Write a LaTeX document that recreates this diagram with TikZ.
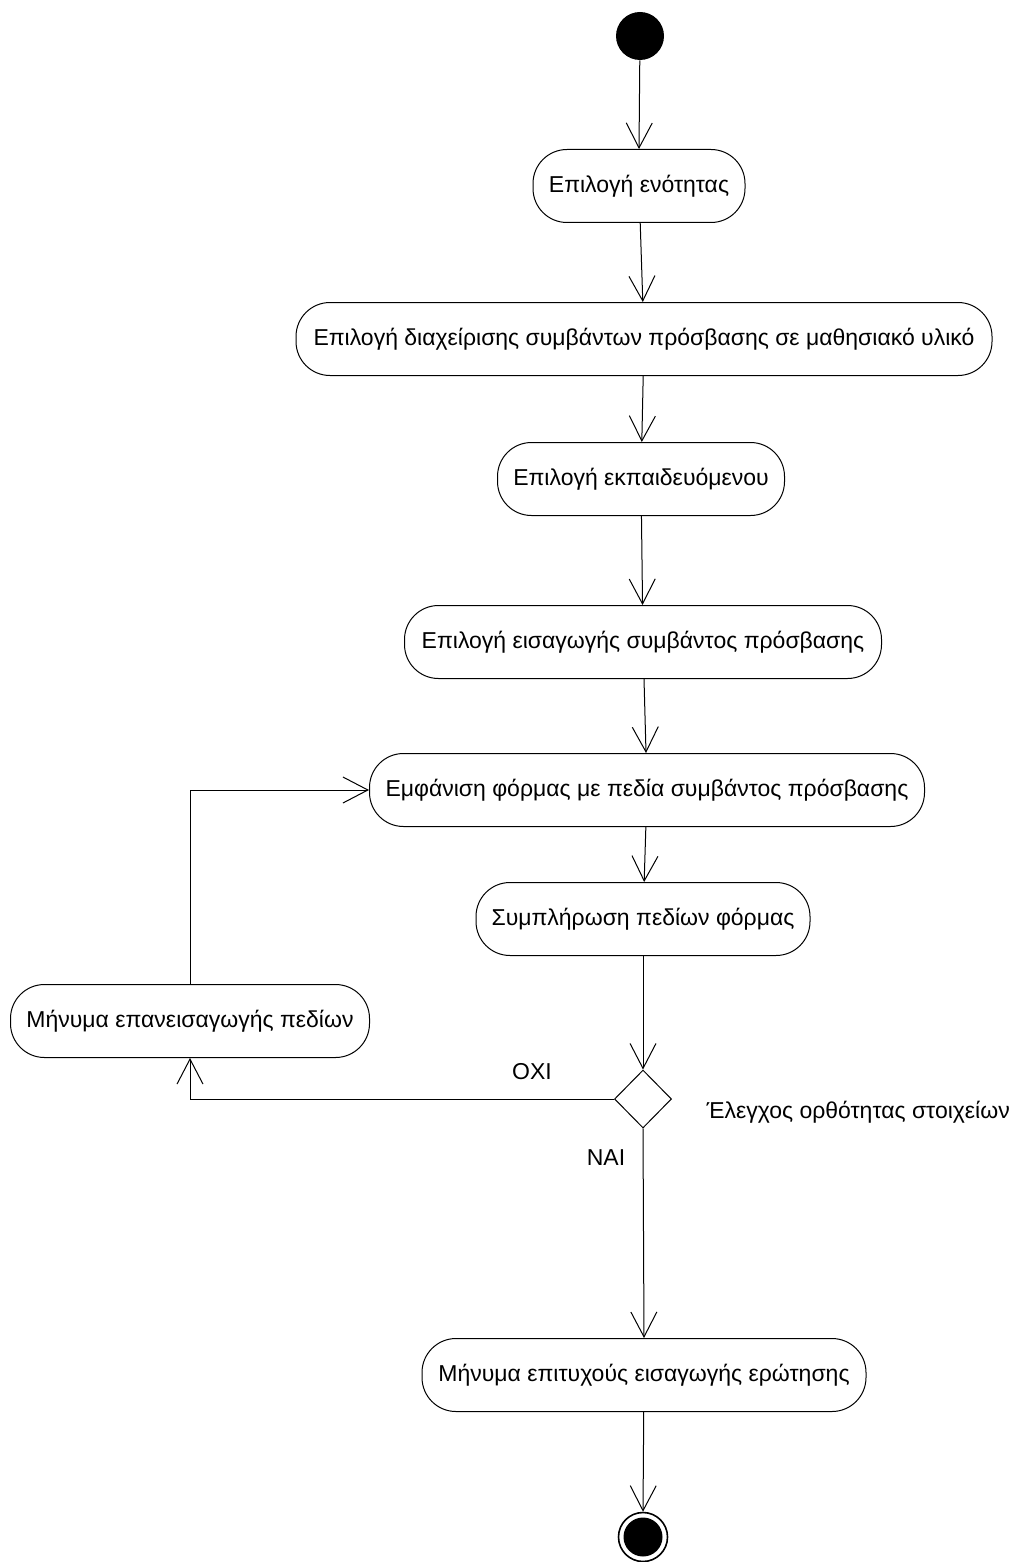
\documentclass[tikz,border=0pt]{standalone}
\usepackage{fontspec}
\setmainfont{Liberation Sans}
\usetikzlibrary{arrows.meta,shapes.geometric}

\tikzset{
  act/.style={draw, rounded corners=34pt, minimum height=73pt, inner sep=0pt,
              font=\fontsize{23}{27}\selectfont},
  flow/.style={draw, line width=1pt,
               -{Straight Barb[length=25pt,width=26pt,line width=1pt]}},
  lbl/.style={inner sep=0pt, font=\fontsize{23}{27}\selectfont},
  decision/.style={diamond, draw, line width=1pt, aspect=1,
                   minimum width=57pt, minimum height=58pt, inner sep=0pt},
}

\begin{document}
\begin{tikzpicture}[x=1pt, y=-1pt, line width=1pt]
\useasboundingbox (0,0) rectangle (1016,1562);

% initial state
\node[circle, fill=black, minimum size=48pt, inner sep=0pt] (start) at (640,36) {};

% actions
\node[act, minimum width=212pt] (b1) at (639,186) {Επιλογή ενότητας};
\node[act, minimum width=696pt] (b2) at (644,339) {Επιλογή διαχείρισης συμβάντων πρόσβασης σε μαθησιακό υλικό};
\node[act, minimum width=287pt] (b3) at (641,479) {Επιλογή εκπαιδευόμενου};
\node[act, minimum width=477pt] (b4) at (643,642) {Επιλογή εισαγωγής συμβάντος πρόσβασης};
\node[act, minimum width=555pt] (b5) at (647,790) {Εμφάνιση φόρμας με πεδία συμβάντος πρόσβασης};
\node[act, minimum width=334pt] (b6) at (643,919) {Συμπλήρωση πεδίων φόρμας};
\node[act, minimum width=359pt] (b7) at (190,1021) {Μήνυμα επανεισαγωγής πεδίων};
\node[act, minimum width=444pt] (b8) at (644,1375) {Μήνυμα επιτυχούς εισαγωγής ερώτησης};

% decision
\node[decision] (dec) at (643,1099) {};
\node[lbl, anchor=west] (declbl) at (706,1112) {Έλεγχος ορθότητας στοιχείων};
\node[lbl] (no) at (532,1072) {ΟΧΙ};
\node[lbl] (yes) at (606,1158) {ΝΑΙ};

% final state
\node[circle, draw, line width=1.6pt, minimum size=49pt, inner sep=0pt] (end) at (643,1537) {};
\fill (end.center) circle (19.5pt);

% transitions
\path[flow] (start) -- (b1.north);
\path[flow] (b1) -- (b2);
\path[flow] (b2) -- (b3);
\path[flow] (b3) -- (b4);
\path[flow] (b4) -- (b5);
\path[flow] (b5) -- (b6);
\path[flow] (b6) -- (dec.north);
\path[flow] (dec.west) -| (b7.south);
\path[flow] (b7.north) |- (b5.west);
\path[flow] (dec.south) -- (b8.north);
\path[flow] (b8) -- (end.north);
\end{tikzpicture}
\end{document}
